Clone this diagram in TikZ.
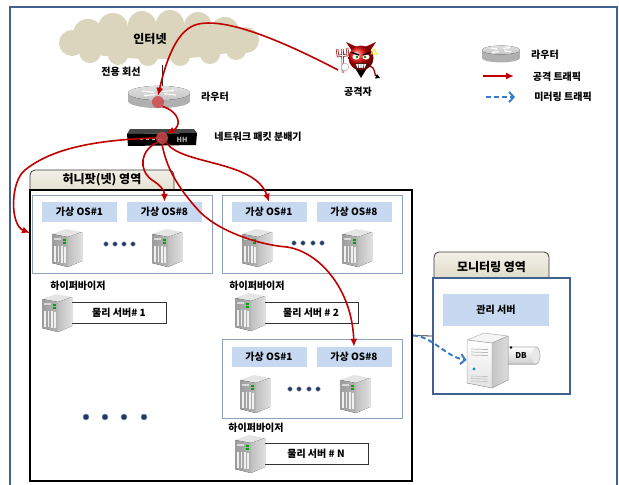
\documentclass[tikz,border=0pt]{standalone}
\usepackage{fontspec}
\setmainfont{Noto Sans CJK KR}
\usetikzlibrary{arrows.meta,calc}

\definecolor{framecol}{HTML}{41618F}
\definecolor{atkred}{HTML}{C00000}
\definecolor{dotred}{HTML}{D04A4F}
\definecolor{cloudcol}{HTML}{DAD5BC}
\definecolor{vmblue}{HTML}{C6D9F1}
\definecolor{grpcol}{HTML}{8EA0BC}
\definecolor{mirrorblue}{HTML}{3A7CC8}
\definecolor{tabcol}{HTML}{DDD9C3}
\definecolor{dotnavy}{HTML}{1F3864}

\tikzset{
  lbl/.style={font=\fontsize{10}{12}\selectfont\bfseries, inner sep=0pt},
  biglbl/.style={font=\fontsize{12}{14}\selectfont\bfseries, inner sep=0pt},
  atkline/.style={draw=atkred, line width=1.6pt, -{Latex[length=8pt,width=7pt]}},
  mirrorline/.style={draw=mirrorblue, line width=2pt, dash pattern=on 5pt off 3pt,
    -{Straight Barb[length=4.5pt,width=10pt]}},
  hit/.style={circle, fill=dotred, fill opacity=0.85, minimum size=12pt, inner sep=0pt},
  vmbox/.style={lbl, fill=vmblue, minimum width=75pt, minimum height=20pt},
  grpbox/.style={draw=grpcol, line width=0.9pt, minimum width=180pt},
  pbox/.style={lbl, draw=gray!40!black, line width=0.8pt, fill=white, minimum height=21pt},
  tabbox/.style={draw=gray!45!black, line width=0.8pt, rounded corners=5pt,
    top color=tabcol!40, bottom color=tabcol},
  navydot/.style={circle, fill=dotnavy, draw=dotnavy!50, line width=0.5pt, inner sep=0pt},
  ghost/.style={inner sep=0pt, outer sep=0pt},
  % grey tower server, origin at its top-left corner
  tower/.pic={
    \fill[gray!20] (0,5) -- (14,0) -- (30,3) -- (16,8) -- cycle;
    \fill[left color=gray!78, right color=gray!58] (0,5) -- (16,8) -- (16,38) -- (0,34) -- cycle;
    \fill[left color=gray!50, right color=gray!25] (16,8) -- (30,3) -- (30,32) -- (16,38) -- cycle;
    \foreach \i in {0,1,2,3}
      \fill[gray!12] ({2.2+3.3*\i},{16.5+0.4*\i}) rectangle ++(1.7,16.5);
    \fill[gray!30] (2,9) rectangle (9,10.5);
    \fill[green!65!black] (11,10) rectangle (14,11.6);
    \fill[green!65!black] (11,13) rectangle (14,14.6);
  },
  % grey router cylinder with crossing arrows
  routericon/.pic={
    \fill[gray!62] (0,4) ellipse[x radius=#1, y radius=0.23*#1];
    \fill[gray!62] (-#1,-4) rectangle (#1,4);
    \fill[top color=gray!25, bottom color=gray!45] (0,-4) ellipse[x radius=#1, y radius=0.23*#1];
    \draw[white, line width=1.1pt, -{Latex[length=2.5pt,width=3pt]}] (-0.55*#1,-6) -- (-0.15*#1,-4.6);
    \draw[white, line width=1.1pt, -{Latex[length=2.5pt,width=3pt]}] (0.55*#1,-2) -- (0.15*#1,-3.4);
    \draw[white, line width=1.1pt, -{Latex[length=2.5pt,width=3pt]}] (0.12*#1,-5.6) -- (0.5*#1,-6.6);
    \draw[white, line width=1.1pt, -{Latex[length=2.5pt,width=3pt]}] (-0.12*#1,-2.4) -- (-0.5*#1,-1.4);
  }
}

\begin{document}
\begin{tikzpicture}[x=1pt, y=-1pt]
\useasboundingbox (0,0) rectangle (619,485);
\fill[white] (0,0) rectangle (619,485);

% outer frame
\draw[framecol, line width=1.6pt] (10,486) -- (10,7) -- (617,7) -- (617,486);

% internet cloud built from overlapping puffs
\node[ghost, minimum width=210pt, minimum height=48pt] (inet) at (157,41) {};
\fill[cloudcol] (157,42) ellipse[x radius=92, y radius=17]
  (72,43) circle (13) (88,34) circle (15) (113,28) circle (15) (142,25) circle (14)
  (170,24) circle (14) (198,26) circle (14) (225,31) circle (14) (246,40) circle (13)
  (90,52) circle (11) (118,55) circle (10) (148,56) circle (10) (180,56) circle (10)
  (210,54) circle (10) (236,50) circle (10);
\node[biglbl] (inettxt) at (150,39) {인터넷};
\node[ghost, minimum width=62pt, minimum height=22pt] (rtr) at (159,97) {};
\draw[gray!30!black, line width=0.8pt] ([xshift=5pt]inet.south) -- ([xshift=3pt]rtr.center);
\node[lbl] (leased) at (121,72) {전용 회선};

% router and packet broker
\pic at (159,97) {routericon=31};
\node[lbl] (rtrtxt) at (215,97) {라우터};
\node[ghost, minimum width=70pt, minimum height=17pt] (tap) at (161,137) {};
\fill[gray!55!black] (130,129) -- (194,129) -- (197,133) -- (127,134) -- cycle;
\fill[black] (127,134) -- (197,133) -- (196,145) -- (128,146) -- cycle;
\foreach \x in {140,146,152,158} \fill[gray!55] (\x,139) rectangle ++(3,1.3);
\node[font=\fontsize{7}{8}\selectfont\bfseries, text=gray!60, inner sep=0pt] (taphh) at (182,140) {HH};
\node[lbl] (taptxt) at (258,137) {네트워크 패킷 분배기};

% attacker
\coordinate (atkhand) at (338,70);
\node[lbl] (atktxt) at (358,92) {공격자};

% legend
\pic at (501,54) {routericon=19};
\node[lbl] (lg0) at (545,55) {라우터};
\coordinate (lg1a) at (483,76);
\coordinate (lg1b) at (514,76);
\node[lbl] (lg1) at (557,77) {공격 트래픽};
\coordinate (lg2a) at (486,97);
\coordinate (lg2b) at (515,97);
\node[lbl] (lg2) at (563,97) {미러링 트래픽};
\draw[atkline] (lg1a) -- (lg1b);
\draw[mirrorline] (lg2a) -- (lg2b);

% honeypot area
\node[tabbox, minimum width=144pt, minimum height=32pt] (hptab) at (102,186) {};
\node[draw=black, line width=2pt, fill=white, minimum width=382pt, minimum height=291pt] (hp) at (221,335.5) {};
\node[biglbl] (hptabtxt) at (102,180) {허니팟(넷) 영역};
\coordinate (hpl) at (30,233);

% monitoring area
\node[tabbox, minimum width=115pt, minimum height=32pt] (montab) at (491.5,268) {};
\node[draw=framecol, line width=1.6pt, fill=white, minimum width=137pt, minimum height=116pt] (mon) at (501.5,336) {};
\node[biglbl] (montabtxt) at (491.5,267.5) {모니터링 영역};
\node[vmbox, minimum width=106pt, minimum height=32pt] (mgr) at (496,310) {관리 서버};

% physical server 1
\node[grpbox, minimum height=78pt] (s1) at (122,234) {};
\node[vmbox] (s1vm1) at (79.5,212) {가상 OS\#1};
\node[vmbox] (s1vm8) at (164.5,212) {가상 OS\#8};
\pic at (52,229) {tower};
\pic at (152,229) {tower};
\foreach \x [count=\i] in {106,115,124,133} \node[navydot, minimum size=4.5pt] (s1d\i) at (\x,244) {};
\node[lbl] (s1hv) at (78,286) {하이퍼바이저};
\node[pbox, minimum width=100pt] (s1p) at (116,312.5) {\hspace*{6pt}물리 서버\# 1};
\pic at (42,294) {tower};

% physical server 2
\node[grpbox, minimum height=78pt] (s2) at (312,234) {};
\node[vmbox] (s2vm1) at (269,212) {가상 OS\#1};
\node[vmbox] (s2vm8) at (354,212) {가상 OS\#8};
\pic at (242,229) {tower};
\pic at (342,229) {tower};
\foreach \x [count=\i] in {294,303,313,322} \node[navydot, minimum size=4.5pt] (s2d\i) at (\x,243) {};
\node[lbl] (s2hv) at (257,286) {하이퍼바이저};
\node[pbox, minimum width=98pt] (s2p) at (309,312.5) {\hspace*{4pt}물리 서버 \# 2};
\pic at (235,293) {tower};

% physical server N
\node[grpbox, minimum height=79pt] (sn) at (312,378.5) {};
\node[vmbox] (snvm1) at (269,357) {가상 OS\#1};
\node[vmbox] (snvm8) at (354,357) {가상 OS\#8};
\pic at (240,375) {tower};
\pic at (340,375) {tower};
\foreach \x [count=\i] in {290,299,309,318} \node[navydot, minimum size=4.5pt] (snd\i) at (\x,389) {};
\node[lbl] (snhv) at (256,428) {하이퍼바이저};
\node[pbox, minimum width=108pt] (snp) at (314,454) {\hspace*{4pt}물리 서버 \# N};
\pic at (235,435) {tower};

% further servers
\foreach \x [count=\i] in {86,105,124,144} \node[navydot, minimum size=6pt] (md\i) at (\x,417) {};

% management server with DB
\node[ghost, minimum width=41pt, minimum height=55pt] (mgmt) at (487,360) {};
\fill[top color=white, bottom color=gray!38] (500,347) rectangle (536,364);
\fill[gray!18] (536,355.5) ellipse[x radius=4, y radius=8.5];
\draw[gray!65, line width=0.6pt] (500,347) -- (536,347) arc[start angle=-90, end angle=90, x radius=4, y radius=8.5] -- (500,364);
\fill[black] (511,347.5) circle (1.4);
\node[font=\fontsize{8}{9}\selectfont\bfseries, inner sep=0pt] (dbtxt) at (521,356) {DB};
\fill[gray!8] (467,340) -- (484,333) -- (508,336) -- (492,343) -- cycle;
\fill[top color=white, bottom color=gray!22] (467,340) -- (492,343) -- (492,388) -- (467,383) -- cycle;
\fill[left color=gray!45, right color=gray!28] (492,343) -- (508,336) -- (508,380) -- (492,388) -- cycle;
\draw[gray!60, line width=0.5pt] (467,340) -- (484,333) -- (508,336) -- (508,380) -- (492,388) -- (467,383) -- cycle
  (467,340) -- (492,343) -- (508,336) (492,343) -- (492,388);
\foreach \y in {349,352,355} \draw[gray!55, line width=0.7pt] (471,\y) -- (488,\y+0.6);
\fill[cyan!70!blue] (474,369) circle (1.6);
\foreach \y in {376,378.5,381} \draw[gray!50, line width=0.6pt] (471,\y) -- (488,\y+0.6);

% mirrored traffic to the management server
\draw[gray!30!black, line width=0.8pt] (hp.east) -- (mon.west);
\draw[mirrorline] (hp.east) .. controls (432,336) and (446,357) .. (mgmt.west);

% attacker figure
\draw[red!65!black, line width=1.3pt] (369,66) .. controls (378,68) and (372,76) .. (378,77);
\fill[black] (380,78) -- (375,78.5) -- (377,74) -- cycle;
\fill[red!55!black] (352,51) -- (346,42) -- (357,47) -- cycle;
\fill[red!55!black] (370,51) -- (376,42) -- (365,47) -- cycle;
\fill[black] (355,68) -- (367,68) -- (361,78) -- cycle;
\shade[ball color=red!90!black] (361,58) circle (12.5);
\fill[white] (356,57) ellipse[x radius=3.6, y radius=2.6];
\fill[white] (366,57) ellipse[x radius=3.6, y radius=2.6];
\fill[green!55!black] (357,57) circle (1.4);
\fill[green!55!black] (365,57) circle (1.4);
\draw[black, line width=1.3pt] (351.5,52.5) -- (359,55) (370.5,52.5) -- (363,55);
\fill[white, draw=black, line width=0.5pt] (355,63.5) -- (367,63.5) -- (365,68) -- (357,68) -- cycle;
\draw[black, line width=0.4pt] (358,63.5) -- (358.5,68) (361,63.5) -- (361,68) (364,63.5) -- (363.5,68);
\draw[red!60!black, line width=2.4pt] (337,49) -- (338,56) -- (348,55) -- (347,48) (342.5,49) -- (343,73);
\draw[white!85!gray, line width=1.1pt] (337,49) -- (338,56) -- (348,55) -- (347,48) (342.5,49) -- (343,73);
\fill[white, draw=gray!60, line width=0.5pt] (345,67) circle (3.8);
\draw[yellow!80!orange, line width=0.8pt] (374,49) -- (377,54) -- (371,54) -- cycle;

% red marks where the attack is seen
\node[hit] (rdot) at (158,102) {};
\node[hit] (bdot) at (162,138) {};

% attack traffic
\draw[atkline] (atkhand) .. controls (290,45) and (225,15) .. (195,25)
  .. controls (175,32) and (165,65) .. (rdot.north);
\draw[atkline] (rdot.south east) .. controls (180,112) and (182,126) .. (bdot.north east);
\draw[atkline] (bdot.west) .. controls (90,140) and (50,150) .. (25,170)
  .. controls (10,182) and (10,225) .. (hpl);
\draw[atkline] (bdot.south west) .. controls (140,150) and (138,170) .. (152,180)
  .. controls (160,185) and (164.5,190) .. (s1vm8.north);
\draw[atkline] (bdot.south east) .. controls (180,165) and (255,160) .. (s2vm1.north);
\draw[atkline] (bdot.south) .. controls (166,165) and (175,185) .. (200,212)
  .. controls (220,232) and (260,245) .. (287,247)
  .. controls (320,252) and (352,290) .. (snvm8.north);
\end{tikzpicture}
\end{document}
